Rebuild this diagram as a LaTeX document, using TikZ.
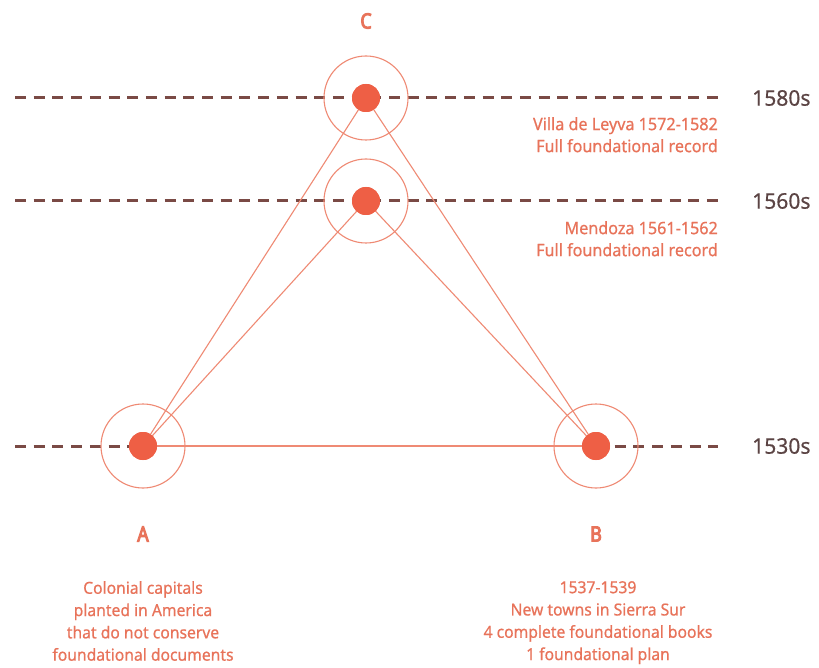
\documentclass[tikz,border=0pt]{standalone}
\usepackage{fontspec}
\setmainfont[FakeStretch=0.9]{Noto Sans}
\newfontfamily\descfont[FakeStretch=0.95,FakeBold=0.6]{Noto Sans}
\newfontfamily\yearfont[FakeStretch=0.98,FakeBold=0.4]{Noto Sans}
\newfontfamily\letterfont[FakeStretch=0.85,FakeBold=4.5]{Noto Sans}
\definecolor{dotc}{HTML}{EE5F45}
\definecolor{linec}{HTML}{EF8A74}
\definecolor{dashc}{HTML}{7A4A45}
\definecolor{labc}{HTML}{E8735A}
\definecolor{yearc}{HTML}{5B4444}
\tikzset{
  dotnode/.style={circle,fill=dotc,draw=none,minimum size=28pt,inner sep=0pt},
  ring/.style={circle,draw=linec,line width=1.1pt,minimum size=84pt,inner sep=0pt},
  conn/.style={draw=linec,line width=1.1pt},
  timeline/.style={draw=dashc,line width=3pt,dash pattern=on 11pt off 7.7pt},
  yeartext/.style={anchor=west,text=yearc,inner sep=0pt,font=\yearfont\fontsize{21.5}{24}\selectfont},
  lettertext/.style={text=labc,font=\letterfont\fontsize{21}{24}\selectfont},
  desc/.style={text=labc,align=center,font=\descfont\fontsize{16.5}{22.3}\selectfont,inner sep=0pt},
  descr/.style={text=labc,align=right,font=\descfont\fontsize{17}{22}\selectfont,inner sep=0pt,anchor=north east}
}
\begin{document}
\begin{tikzpicture}[x=1pt,y=-1pt]
\useasboundingbox[fill=white] (0,0) rectangle (819,668);
% anchor coordinates
\coordinate (LA) at (15,98);
\coordinate (RA) at (718,98);
\coordinate (LM) at (15,201);
\coordinate (RM) at (718,201);
\coordinate (LB) at (15,446);
\coordinate (RB) at (718,446);
\coordinate (pA) at (143,446);
\coordinate (pB) at (596,446);
% dashed time lines
\draw[timeline] (LA) -- (RA);
\draw[timeline] (LM) -- (RM);
\draw[timeline] (LB) -- (pA);
\draw[timeline] (pB) -- (RB);
% rings
\node[ring] (rC) at (366,98) {};
\node[ring] (rM) at (366,201) {};
\node[ring] (rA) at (pA) {};
\node[ring] (rB) at (pB) {};
% dots
\node[dotnode] (C) at (366,98) {};
\node[dotnode] (M) at (366,201) {};
\node[dotnode] (A) at (pA) {};
\node[dotnode] (B) at (pB) {};
% connectors
\draw[conn] (A.center) -- (C.center);
\draw[conn] (A.center) -- (M.center);
\draw[conn] (B.center) -- (C.center);
\draw[conn] (B.center) -- (M.center);
\draw[conn] (A.center) -- (B.center);
% redraw dots on top of connectors
\fill[dotc] (C.center) circle (14);
\fill[dotc] (M.center) circle (14);
\fill[dotc] (A.center) circle (14);
\fill[dotc] (B.center) circle (14);
% letters
\node[lettertext] (lC) at (366,21) {C};
\node[lettertext] (lA) at (143,534) {A};
\node[lettertext] (lB) at (596,534) {B};
% years
\node[yeartext] (y1) at (752,98) {1580s};
\node[yeartext] (y2) at (752,201) {1560s};
\node[yeartext] (y3) at (752,446) {1530s};
% descriptions
\node[descr] (dC) at (718,117) {Villa de Leyva 1572-1582\\Full foundational record};
\node[descr] (dM) at (718,221) {Mendoza 1561-1562\\Full foundational record};
\node[desc,anchor=north] (dA) at (143,581) {Colonial capitals\\planted in America\\that do not conserve\\foundational documents};
\node[desc,anchor=north] (dB) at (598,581) {1537-1539\\New towns in Sierra Sur\\4 complete foundational books\\1 foundational plan};
\end{tikzpicture}
\end{document}
